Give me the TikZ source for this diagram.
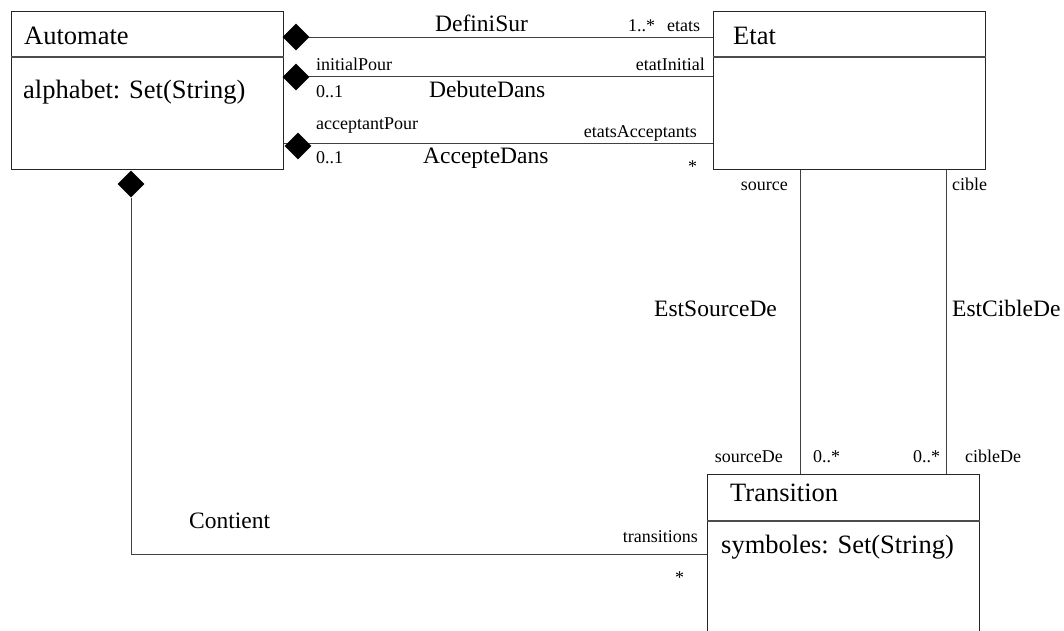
\documentclass[tikz,border=0pt]{standalone}
\usepackage{fontspec}
\setmainfont{Liberation Serif}
\usetikzlibrary{shapes.geometric}

\begin{document}
\begin{tikzpicture}[x=1pt,y=-1pt,
  classbox/.style={draw=black!85, line width=1pt, anchor=north west, inner sep=0pt,
                   minimum width=272pt, minimum height=158pt},
  divider/.style={draw=black!70, line width=1.2pt},
  assoc/.style={draw=black!75, line width=0.9pt},
  comp/.style={diamond, fill=black, draw=none, inner sep=0pt,
               minimum width=27pt, minimum height=27pt},
  cname/.style={anchor=base west, inner sep=0pt, font=\fontsize{26.5}{30}\selectfont},
  aname/.style={anchor=base west, inner sep=0pt, font=\fontsize{23.5}{27}\selectfont},
  role/.style={anchor=base west, inner sep=0pt, font=\fontsize{18}{21}\selectfont},
  roler/.style={role, anchor=base east},
]
\useasboundingbox (0,0) rectangle (1064,630);
\clip (0,0) rectangle (1064,630);
\fill[white] (0,0) rectangle (1064,630);

% class boxes
\node[classbox] (automate) at (11,11) {};
\node[classbox] (etat) at (713,11) {};
\node[classbox, minimum height=200pt] (transition) at (707,474) {};

\draw[divider] (automate.west |- 0,57) -- (automate.east |- 0,57);
\draw[divider] (etat.west |- 0,57) -- (etat.east |- 0,57);
\draw[divider] (transition.west |- 0,521) -- (transition.east |- 0,521);

\node[cname] (automateName) at (24,44) {Automate};
\node[cname] (automateAttr) at (23,98) {alphabet: Set(String)};
\node[cname] (etatName) at (733,44) {Etat};
\node[cname] (transitionName) at (730,501) {Transition};
\node[cname] (transitionAttr) at (721,553) {symboles: Set(String)};

% associations between Automate and Etat
\draw[assoc] (automate.east |- 0,37) -- (etat.west |- 0,37);
\draw[assoc] (automate.east |- 0,76) -- (etat.west |- 0,76);
\draw[assoc] (automate.east |- 0,143) -- (etat.west |- 0,143);

% associations between Etat and Transition
\draw[assoc] (etat.south -| 800,0) -- (transition.north -| 800,0);
\draw[assoc] (etat.south -| 946,0) -- (transition.north -| 946,0);

% composition Automate -> Transition
\node[comp] (dContient) at (131,184) {};
\draw[assoc] (dContient.south) |- (transition.west |- 0,554);

% composition diamonds on the Automate side
\node[comp] (dDefini) at (296,37) {};
\node[comp] (dDebute) at (296,77) {};
\node[comp] (dAccepte) at (298,146) {};

% association names
\node[aname] (lDefini) at (435,31) {DefiniSur};
\node[aname] (lDebute) at (429,97) {DebuteDans};
\node[aname] (lAccepte) at (423,163) {AccepteDans};
\node[aname] (lSource) at (654,316) {EstSourceDe};
\node[aname] (lCible) at (952,316) {EstCibleDe};
\node[aname] (lContient) at (189,528) {Contient};

% role names and multiplicities
\node[role] (mEtats) at (628,31) {1..*};
\node[role] (rEtats) at (667,31) {etats};
\node[role] (rInitialPour) at (316,70) {initialPour};
\node[roler] (rEtatInitial) at (705,70) {etatInitial};
\node[role] (mInitialPour) at (316,97) {0..1};
\node[role] (rAcceptantPour) at (316,129) {acceptantPour};
\node[roler] (rEtatsAcc) at (697,137) {etatsAcceptants};
\node[role] (mAcceptantPour) at (316,163) {0..1};
\node[role] (mEtatsAcc) at (688,172) {*};
\node[roler] (rSource) at (788,190) {source};
\node[role] (rCible) at (952,190) {cible};
\node[roler] (rSourceDe) at (783,462) {sourceDe};
\node[role] (mSourceDe) at (813,462) {0..*};
\node[role] (mCibleDe) at (913,462) {0..*};
\node[role] (rCibleDe) at (965,462) {cibleDe};
\node[roler] (rTransitions) at (698,542) {transitions};
\node[role] (mTransitions) at (675,583) {*};
\end{tikzpicture}
\end{document}
